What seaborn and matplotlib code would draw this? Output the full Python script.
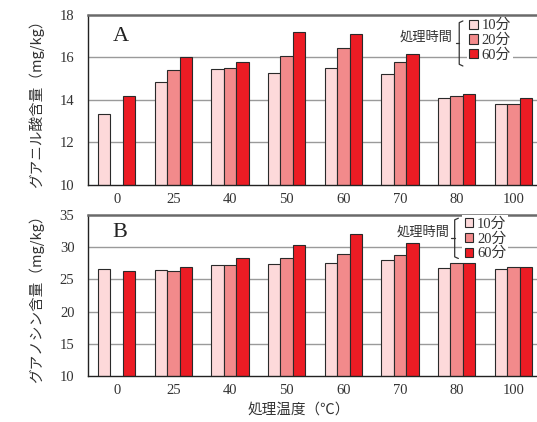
import numpy as np
import pandas as pd
import matplotlib
matplotlib.use("Agg")
import matplotlib.pyplot as plt
from matplotlib.patches import Patch
import seaborn as sns

sns.set_style("white")
plt.rcParams['font.family'] = ['Liberation Serif', 'Noto Sans CJK JP', 'DejaVu Sans']

temps = ['0', '25', '40', '50', '60', '70', '80', '100']
times = ['10分', '20分', '60分']
A_10 = [13.36, 14.83, 15.45, 15.26, 15.51, 15.21, 14.11, 13.82]
A_20 = [np.nan, 15.39, 15.50, 16.08, 16.43, 15.80, 14.17, 13.82]
A_60 = [14.19, 16.02, 15.77, 17.20, 17.12, 16.15, 14.30, 14.11]
B_10 = [26.6, 26.4, 27.2, 27.4, 27.6, 28.0, 26.7, 26.6]
B_20 = [np.nan, 26.25, 27.2, 28.4, 29.0, 28.8, 27.6, 26.9]
B_60 = [26.3, 26.9, 28.3, 30.4, 32.0, 30.7, 27.5, 27.0]
A_ticks = [10, 12, 14, 16, 18]
B_ticks = [10, 15, 20, 25, 30, 35]

colors = ['#fdd9da', '#f28a8b', '#ec1c24']
edge = '#2a2a2a'
jp = ['Noto Sans CJK JP', 'DejaVu Sans']
txtc = '#333333'


def make_df(s10, s20, s60):
    rows = []
    for name, s in zip(times, [s10, s20, s60]):
        for t, v in zip(temps, s):
            rows.append({'temp': t, 'time': name, 'val': v})
    return pd.DataFrame(rows)


fig = plt.figure(figsize=(5.37, 4.22), dpi=100)
W, H = 537, 422
left_px, right_px = 88.3, 541.7
axA = fig.add_axes([left_px / W, 1 - 185 / H, (right_px - left_px) / W, 170 / H])
axB = fig.add_axes([left_px / W, 1 - 376 / H, (right_px - left_px) / W, 161 / H])


def ax_center_px(ax):
    b = ax.get_position()
    return (1 - (b.y0 + b.y1) / 2) * H


def style(ax, df, ticks, letter, letter_y, ylabel, leg):
    sns.barplot(data=df, x='temp', y='val', hue='time', order=temps,
                hue_order=times, palette=colors, width=0.66, saturation=1,
                edgecolor=edge, linewidth=0.8, errorbar=None, legend=False,
                ax=ax)
    ax.set_xlim(-0.5, 7.5)
    ax.set_ylim(ticks[0], ticks[-1])
    ax.set_yticks(ticks)
    ax.set_yticklabels([str(t) for t in ticks], fontsize=10.5, color=txtc)
    ax.set_xticks(range(len(temps)))
    ax.set_xticklabels(temps, fontsize=10.5, color=txtc)
    ax.set_xticks([i + 0.5 for i in range(len(temps) - 1)], minor=True)
    ax.tick_params(axis='x', which='major', length=0, pad=6)
    ax.tick_params(axis='x', which='minor', length=4, width=0.8, color='#222', direction='out')
    ax.tick_params(axis='y', length=4, width=0.8, color='#222', direction='out', pad=6)
    ax.set_xlabel('')
    ax.set_ylabel('')
    for t in ticks[1:-1]:
        ax.axhline(t, color='#9a9a9a', lw=1.0, zorder=0)
    ax.set_axisbelow(True)
    ax.spines['top'].set_color('#6a6a6a')
    ax.spines['top'].set_linewidth(1.8)
    ax.spines['right'].set_visible(False)
    ax.spines['left'].set_color('#222')
    ax.spines['left'].set_linewidth(1.0)
    ax.spines['bottom'].set_color('#222')
    ax.spines['bottom'].set_linewidth(1.0)
    ax.text(0.054, letter_y, letter, transform=ax.transAxes, fontsize=16,
            family='Liberation Serif', color='#222', va='center', ha='left')
    # legend
    handles = [Patch(facecolor=c, edgecolor=edge, linewidth=0.8) for c in colors]
    lg = ax.legend(handles, times, loc='upper left', bbox_to_anchor=leg['anchor'],
                   fontsize=10.5, frameon=True, framealpha=1, facecolor='white',
                   edgecolor='none', handlelength=0.6, handleheight=0.6,
                   handletextpad=0.25, labelspacing=0.1, borderpad=0.15,
                   borderaxespad=0, fancybox=False)
    for tx in lg.get_texts():
        tx.set_color(txtc)
    ax.text(leg['tx'], leg['ty'], '処理時間', transform=ax.transAxes,
            fontsize=9.5, family=jp, color=txtc, ha='right', va='center')
    bx0, bx1, by0, by1 = leg['brace']
    ym = (by0 + by1) / 2
    ax.plot([bx0 + (bx1 - bx0) * 0.9, bx0 + (bx1 - bx0) * 0.45, bx0 + (bx1 - bx0) * 0.45,
             bx0 + (bx1 - bx0) * 0.9],
            [by1, by1 - 0.01, by0 + 0.01, by0], transform=ax.transAxes,
            color='#333', lw=0.9, clip_on=False)
    ax.plot([bx0, bx0 + (bx1 - bx0) * 0.45], [ym, ym], transform=ax.transAxes,
            color='#333', lw=0.9, clip_on=False)
    fig.text(36 / W, 1 - ax_center_px(ax) / H, ylabel, rotation=90, fontsize=10.5,
             family=jp, color=txtc, ha='center', va='center')


style(axA, make_df(A_10, A_20, A_60), A_ticks, 'A', 0.874,
      'グアニル酸含量（mg/kg）',
      {'anchor': (0.835, 0.99), 'tx': 0.804, 'ty': 0.872,
       'brace': (0.810, 0.828, 0.70, 0.965)})
style(axB, make_df(B_10, B_20, B_60), B_ticks, 'B', 0.894,
      'グアノシン含量（mg/kg）',
      {'anchor': (0.825, 1.0), 'tx': 0.797, 'ty': 0.895,
       'brace': (0.800, 0.818, 0.73, 0.98)})

fig.text(299 / W, 1 - 410 / H, '処理温度（℃）', fontsize=10.5, family=jp,
         color=txtc, ha='center', va='center')

fig.savefig('out.png', dpi=100)
